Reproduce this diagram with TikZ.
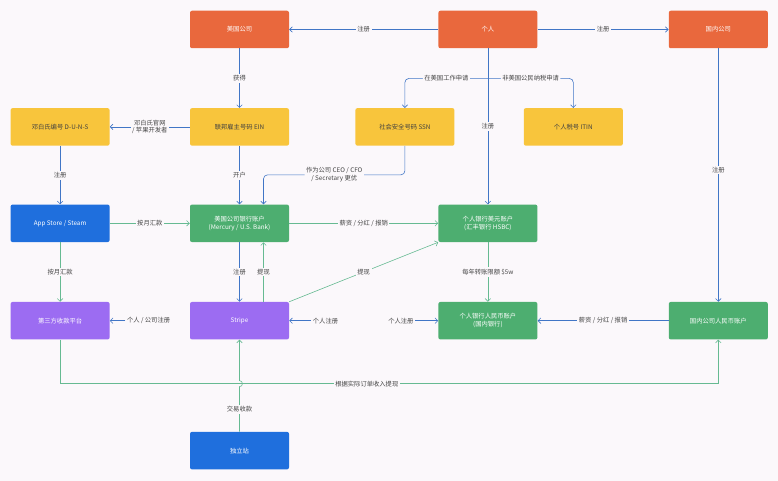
\documentclass[tikz,border=0pt]{standalone}
\usepackage{fontspec}
\setmainfont{Noto Sans CJK SC}
\usetikzlibrary{positioning,arrows.meta,calc}

\definecolor{bgpink}{HTML}{FBF8FB}
\definecolor{boxorange}{HTML}{E9683D}
\definecolor{boxyellow}{HTML}{F8C53C}
\definecolor{boxblue}{HTML}{1F6FDD}
\definecolor{boxgreen}{HTML}{4DAE70}
\definecolor{boxpurple}{HTML}{9C6CF2}
\definecolor{lineblue}{HTML}{4176C6}
\definecolor{linegreen}{HTML}{66BA92}
\definecolor{labeltext}{HTML}{454545}

\begin{document}
\begin{tikzpicture}[
  x=1pt, y=1pt,
  font=\fontsize{6.3}{7.8}\selectfont,
  box/.style={rounded corners=2pt, align=center, minimum width=99pt,
              minimum height=37.5pt, inner sep=2pt, text=white},
  orangebox/.style={box, fill=boxorange},
  yellowbox/.style={box, fill=boxyellow, text=black!75},
  bluebox/.style={box, fill=boxblue},
  greenbox/.style={box, fill=boxgreen},
  purplebox/.style={box, fill=boxpurple},
  lbl/.style={fill=bgpink, inner sep=1.5pt, text=labeltext, align=center},
  bline/.style={-{Straight Barb[length=2.8pt,width=5.5pt]}, line width=0.6pt, lineblue},
  gline/.style={-{Straight Barb[length=2.8pt,width=5.5pt]}, line width=0.6pt, linegreen},
]
  \fill[bgpink] (0,0) rectangle (778,-481);
  \useasboundingbox (0,0) rectangle (778,-481);

  % top row
  \node[orangebox] (uscorp) at (239.5,-29.5) {美国公司};
  \node[orangebox, right=149pt of uscorp] (person) {个人};
  \node[orangebox, right=131pt of person] (cncorp) {国内公司};

  % tax numbers
  \node[yellowbox, below=59.5pt of uscorp] (ein) {联邦雇主号码 EIN};
  \node[yellowbox, left=80pt of ein] (duns) {邓白氏编号 D-U-N-S};
  \node[yellowbox, right=66pt of ein] (ssn) {社会安全号码 SSN};
  \node[yellowbox, right=69pt of ssn] (itin) {个人税号 ITIN};

  % accounts
  \node[greenbox, below=58.5pt of ein] (usbank) {美国公司银行账户\\(Mercury / U.S. Bank)};
  \node[bluebox, left=80pt of usbank] (appstore) {App Store / Steam};
  \node[greenbox, right=149pt of usbank] (hsbc) {个人银行美元账户\\(汇丰银行 HSBC)};
  \node[purplebox, below=59.5pt of usbank] (stripe) {Stripe};
  \node[purplebox, left=80pt of stripe] (thirdpay) {第三方收款平台};
  \node[greenbox, right=149pt of stripe] (rmbpers) {个人银行人民币账户\\(国内银行)};
  \node[greenbox, right=131pt of rmbpers] (cnrmb) {国内公司人民币账户};
  \node[bluebox, below=92pt of stripe] (indep) {独立站};

  % registration
  \draw[bline] (person) -- node[lbl]{注册} (uscorp);
  \draw[bline] (person) -- node[lbl]{注册} (cncorp);
  \draw[bline] (uscorp) -- node[lbl]{获得} (ein);
  \draw[bline] (person) -- node[lbl]{注册} (hsbc);
  \coordinate[below=30pt of person.south] (split);
  \draw[bline, rounded corners=4pt] (split) -| node[lbl, pos=0.25]{在美国工作申请} (ssn);
  \draw[bline, rounded corners=4pt] (split) -| node[lbl, pos=0.25]{非美国公民纳税申请} (itin);
  \draw[bline] (ein) -- node[lbl]{邓白氏官网\\/ 苹果开发者} (duns);
  \draw[bline] (duns) -- node[lbl]{注册} (appstore);
  \draw[bline] (ein) -- node[lbl]{开户} (usbank);
  \draw[bline, rounded corners=4pt] (ssn.south) -- ++(0,-29)
    -| node[lbl, pos=0.25]{作为公司 CEO / CFO\\/ Secretary 更优} ([xshift=24pt]usbank.north);
  \draw[bline] (cncorp) -- node[lbl, pos=0.48]{注册} (cnrmb);

  % money flow
  \draw[gline] (appstore) -- node[lbl]{按月汇款} (usbank);
  \draw[gline] (appstore) -- node[lbl]{按月汇款} (thirdpay);
  \draw[gline] (usbank) -- node[lbl]{薪资 / 分红 / 报销} (hsbc);
  \draw[bline] (usbank) -- node[lbl]{注册} (stripe);
  \draw[gline] ([xshift=24pt]stripe.north) -- node[lbl]{提现} ([xshift=24pt]usbank.south);
  \draw[gline] (stripe.north east) -- node[lbl]{提现} (hsbc.south west);
  \draw[gline] (hsbc) -- node[lbl]{每年转账限额 \$5w} (rmbpers);
  \draw[bline] (cnrmb) -- node[lbl]{薪资 / 分红 / 报销} (rmbpers);

  \node[lbl, left=18pt of stripe] (thirdreg) {个人 / 公司注册};
  \draw[bline] (thirdreg) -- (thirdpay);
  \node[lbl, right=22pt of stripe] (stripereg) {个人注册};
  \draw[bline] (stripereg) -- (stripe);
  \node[lbl, left=23pt of rmbpers] (rmbreg) {个人注册};
  \draw[bline] (rmbreg) -- (rmbpers);

  % payout line with jump
  \coordinate[below=44pt of thirdpay.south] (payout);
  \draw[gline] (thirdpay) -- (payout)
    -- node[lbl, pos=0.466]{根据实际订单收入提现} (payout -| cnrmb.south) -- (cnrmb);
  \draw[gline] (indep) -- node[lbl]{交易收款} ($(indep.north |- payout)+(0,-3)$)
    arc[start angle=-90, end angle=90, radius=3pt] -- (stripe);
\end{tikzpicture}
\end{document}
